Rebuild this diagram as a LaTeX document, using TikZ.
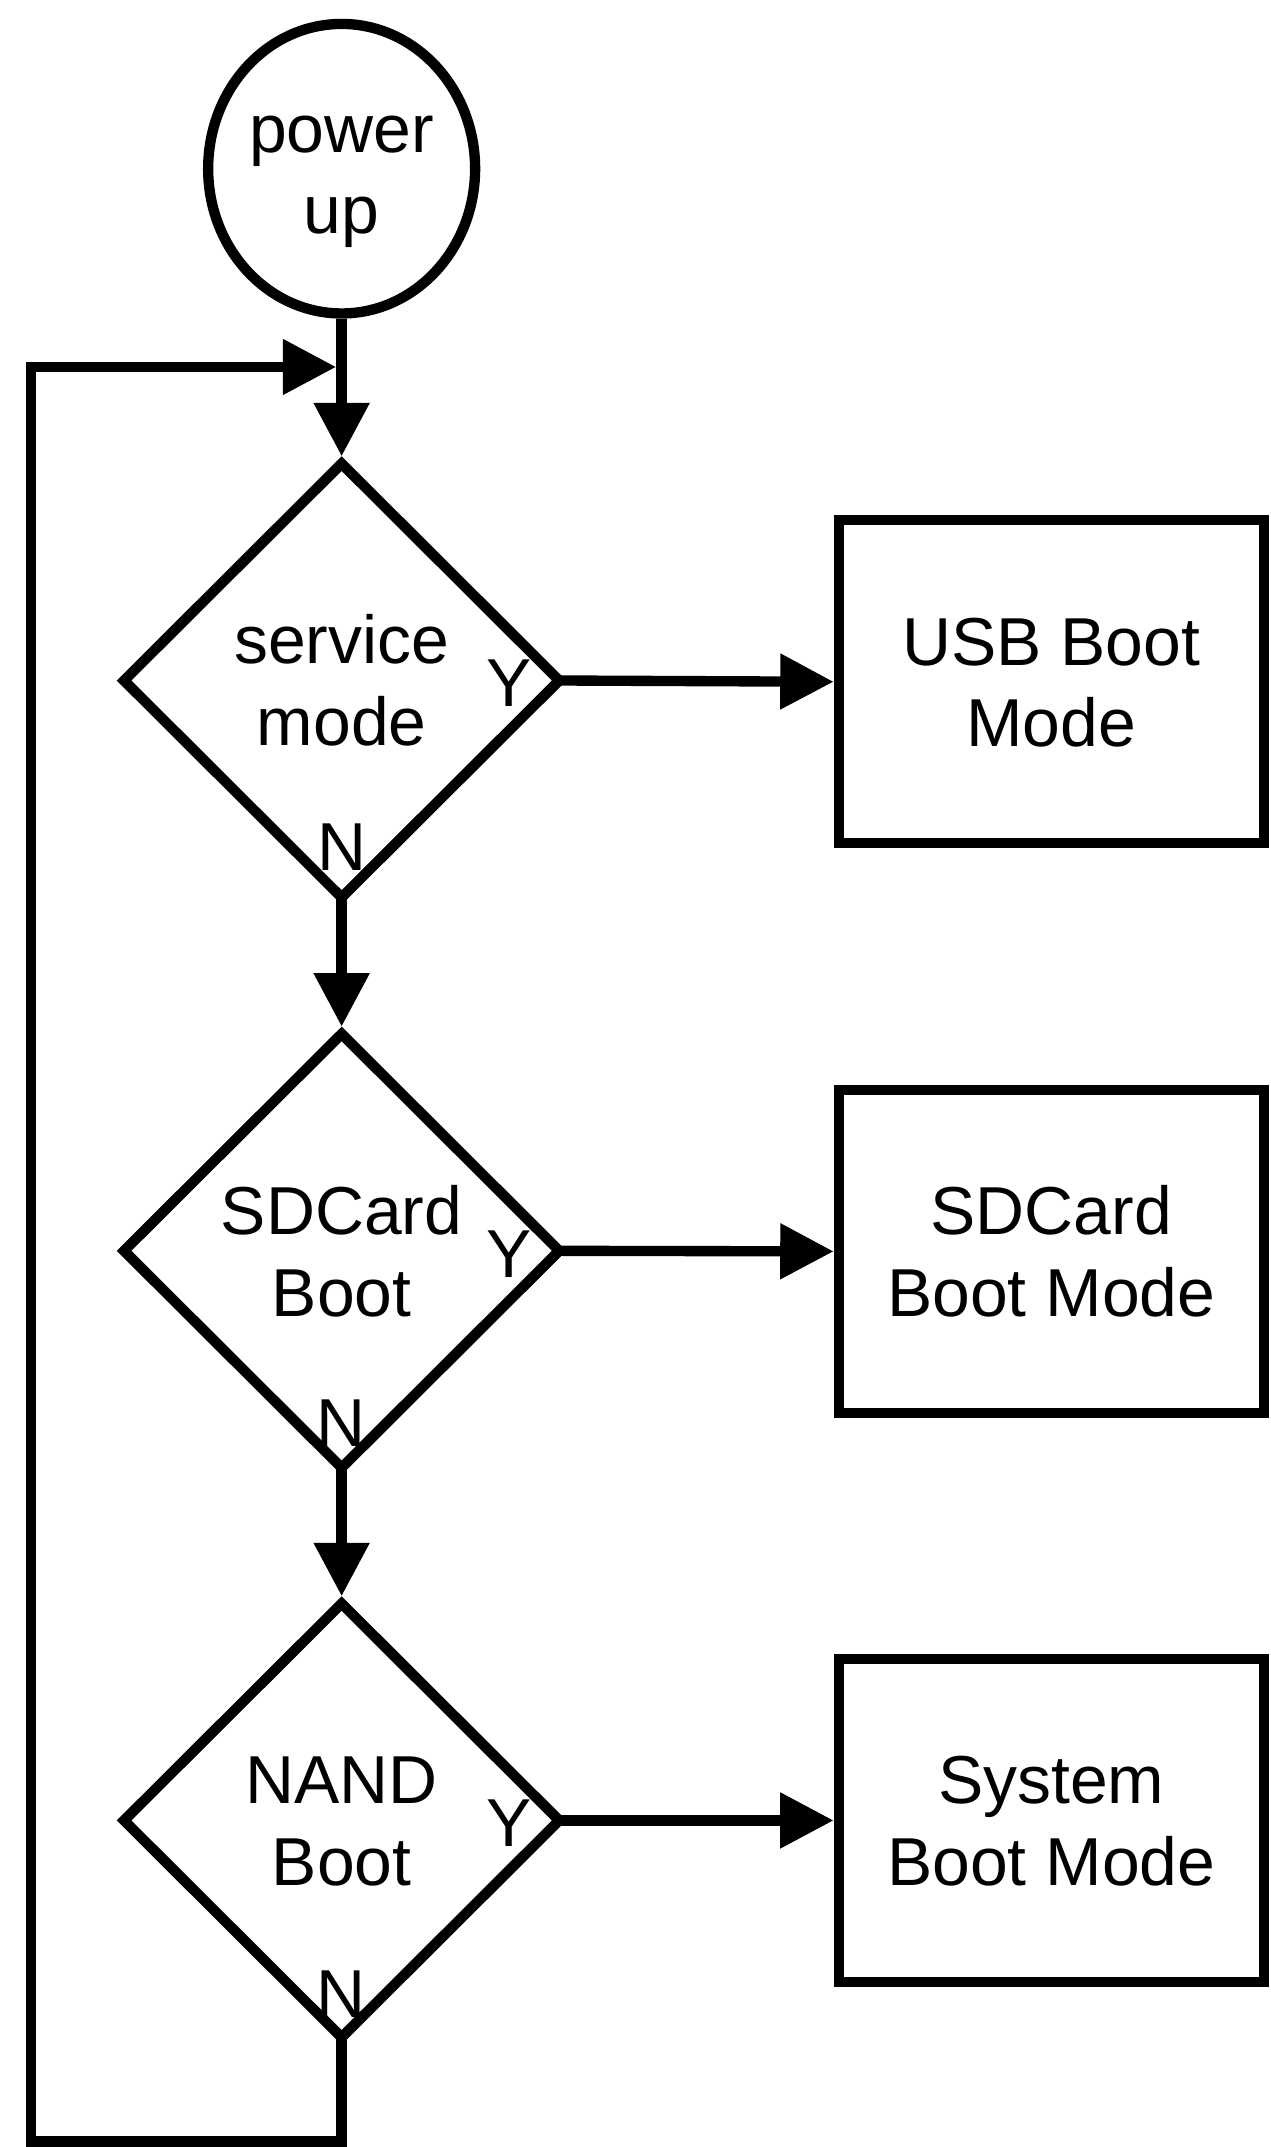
\documentclass[tikz,border=0pt]{standalone}
\usepackage{fontspec}
\setmainfont{Liberation Sans}
\usetikzlibrary{shapes.geometric,arrows.meta}
\tikzset{
  base/.style={draw=black, line width=4.3pt, inner sep=0pt, align=center,
    font=\fontsize{28.2pt}{34pt}\selectfont, text height=54.2pt, text depth=0pt},
  startnode/.style={base, ellipse, minimum width=3.9cm, minimum height=4.23cm},
  decision/.style={base, diamond, minimum width=6.42cm, minimum height=6.4cm},
  modebox/.style={base, rectangle, minimum width=6.21cm, minimum height=4.72cm},
  yn/.style={inner sep=0pt, font=\fontsize{28.2pt}{34pt}\selectfont, text height=20.2pt, text depth=0pt},
  conn/.style={line width=4.3pt, -{Triangle[length=0.78cm,width=0.78cm]}},
  fromdec/.style={shorten <=-0.1cm}
}
\begin{document}
\begin{tikzpicture}[x=0.02cm, y=-0.02cm]
\useasboundingbox (0,0) rectangle (928,1568);
\node[startnode] (pu) at (249.5,123.2) {power\\up};
\node[decision] (d1) at (249.5,497) {service\\mode};
\node[decision] (d2) at (249.5,913.5) {SDCard\\Boot};
\node[decision] (d3) at (249.5,1329.5) {NAND\\Boot};
\node[modebox] (b1) at (767.8,497.9) {USB Boot\\Mode};
\node[modebox] (b2) at (767.8,913.9) {SDCard\\Boot Mode};
\node[modebox] (b3) at (767.8,1329.5) {System\\Boot Mode};
\node[yn] (y1) at (372,498.5) {Y};
\node[yn] (n1) at (250,618) {N};
\node[yn] (y2) at (372,915) {Y};
\node[yn] (n2) at (249,1039) {N};
\node[yn] (y3) at (372,1331) {Y};
\node[yn] (n3) at (249,1456) {N};
\coordinate (lc) at (22.5,1564);
\coordinate (lin) at (245.5,268);
\draw[conn] (pu.south) -- (d1.north);
\draw[conn, fromdec] (d1.south) -- (d2.north);
\draw[conn, fromdec] (d2.south) -- (d3.north);
\draw[conn, fromdec] (d1.east) -- (b1.west);
\draw[conn, fromdec] (d2.east) -- (b2.west);
\draw[conn, fromdec] (d3.east) -- (b3.west);
\draw[conn, fromdec] (d3.south) |- (lc) |- (lin);
\end{tikzpicture}
\end{document}
